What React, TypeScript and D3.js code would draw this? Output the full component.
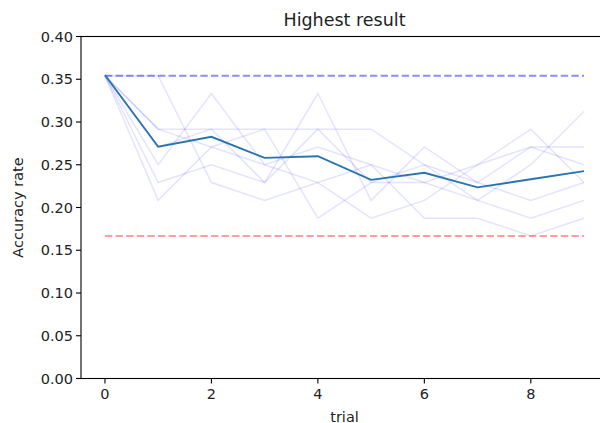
import React from "react";
import * as d3 from "d3";

const trials = [0, 1, 2, 3, 4, 5, 6, 7, 8, 9];
const meanAccuracy = [0.355, 0.271, 0.2827, 0.258, 0.26, 0.2323, 0.2406, 0.2236, 0.233, 0.2425];
// individual runs, values in 1/48 steps
const runA = [17, 17, 11, 10, 11, 12, 11, 10, 9, 10];
const runB = [17, 14, 14, 14, 14, 14, 12, 11, 10, 11];
const runC = [17, 12, 16, 12, 11, 9, 10, 12, 14, 11];
const runD = [17, 11, 12, 11, 16, 10, 13, 11, 13, 13];
const runE = [17, 10, 13, 14, 9, 11, 12, 10, 12, 15];
const runF = [17, 14, 13, 12, 13, 12, 9, 9, 8, 9];
const runG = [17, 13, 14, 11, 14, 11, 11, 12, 13, 12];
const runs = [runA, runB, runC, runD, runE, runF, runG];
const runDenominator = 48;
const upperRef = 17 / 48;
const lowerRef = 8 / 48;
const xTicks = [0, 2, 4, 6, 8];
const yTicks = [0, 0.05, 0.1, 0.15, 0.2, 0.25, 0.3, 0.35, 0.4];

export default function App() {
  const W = 600, H = 423;
  const left = 81, right = 608, top = 36.5, bottom = 378.5;
  const x = d3.scaleLinear().domain([-0.45, 9.45]).range([left, right]);
  const y = d3.scaleLinear().domain([0, 0.4]).range([bottom, top]);
  const line = d3
    .line<number>()
    .x((_, i) => x(trials[i]))
    .y((v) => y(v));
  const font = "DejaVu Sans, sans-serif";
  const x0 = x(trials[0]);
  const x9 = x(trials[trials.length - 1]);
  const tickFs = 14.5;
  return (
    <svg
      width={W}
      height={H}
      style={{ position: "absolute", left: 0, top: 0, background: "#fff" }}
      fontFamily={font}
    >
      <rect x={0} y={0} width={W} height={H} fill="#fff" />
      {runs.map((r, i) => (
        <path
          key={i}
          d={line(r.map((k) => k / runDenominator)) || ""}
          fill="none"
          stroke="blue"
          strokeOpacity={0.11}
          strokeWidth={1.5}
        />
      ))}
      <line
        x1={x0}
        x2={x9}
        y1={y(upperRef)}
        y2={y(upperRef)}
        stroke="blue"
        strokeOpacity={0.45}
        strokeWidth={2}
        strokeDasharray="7.4,3.2"
      />
      <line
        x1={x0}
        x2={x9}
        y1={y(lowerRef)}
        y2={y(lowerRef)}
        stroke="red"
        strokeOpacity={0.38}
        strokeWidth={2}
        strokeDasharray="7.4,3.2"
      />
      <path d={line(meanAccuracy) || ""} fill="none" stroke="#2a74ad" strokeWidth={1.9} />
      {/* spines */}
      <rect x={left} y={top} width={right - left} height={bottom - top} fill="none" stroke="#000" strokeWidth={1.1} />
      {yTicks.map((t) => (
        <g key={"y" + t}>
          <line x1={left - 5} x2={left} y1={y(t)} y2={y(t)} stroke="#000" strokeWidth={1.1} />
          <text x={left - 8} y={y(t)} dy="0.36em" textAnchor="end" fontSize={tickFs} fill="#222">
            {t.toFixed(2)}
          </text>
        </g>
      ))}
      {xTicks.map((t) => (
        <g key={"x" + t}>
          <line x1={x(t)} x2={x(t)} y1={bottom} y2={bottom + 5} stroke="#000" strokeWidth={1.1} />
          <text x={x(t)} y={bottom + 20} textAnchor="middle" fontSize={tickFs} fill="#222">
            {t}
          </text>
        </g>
      ))}
      <text x={(left + right) / 2} y={26} textAnchor="middle" fontSize={17.5} fill="#222">
        Highest result
      </text>
      <text x={(left + right) / 2} y={bottom + 43} textAnchor="middle" fontSize={tickFs} fill="#222">
        trial
      </text>
      <text
        transform={`translate(23, ${(top + bottom) / 2}) rotate(-90)`}
        textAnchor="middle"
        fontSize={tickFs}
        fill="#222"
      >
        Accuracy rate
      </text>
    </svg>
  );
}
